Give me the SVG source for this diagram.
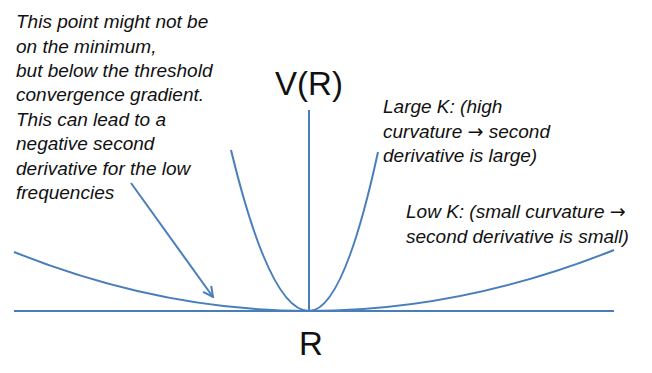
<svg xmlns="http://www.w3.org/2000/svg" width="652" height="373" viewBox="0 0 652 373">
<defs>
<style>
.ln{fill:none;stroke:#4a7ebb;stroke-width:2}
.it{font-family:"Liberation Sans",Arial,sans-serif;font-style:italic;font-size:19px;fill:#111}
.ar{font-family:"DejaVu Sans",sans-serif;font-style:normal;font-size:19px}
.big{font-family:"Liberation Sans",Arial,sans-serif;font-size:33px;fill:#111;text-anchor:middle}
</style>
<marker id="ah" viewBox="0 0 12 12" refX="11" refY="6" markerWidth="12" markerHeight="12" markerUnits="userSpaceOnUse" orient="auto">
<path d="M1,1 L11,6 L1,11" fill="none" stroke="#4a7ebb" stroke-width="2"/>
</marker>
</defs>
<rect width="652" height="373" fill="#fff"/>
<g id="connectors">
<line class="ln" x1="14" y1="311" x2="614" y2="311"/>
<line class="ln" x1="309" y1="110" x2="309" y2="311"/>
<path class="ln" d="M231,150 Q270,311 309,311 Q343.5,311 378,152"/>
<path class="ln" d="M14,252 Q161.5,311 309,311 Q461.5,311 614,250"/>
<line class="ln" x1="131" y1="183" x2="213" y2="297" marker-end="url(#ah)"/>
</g>
<g id="axis-labels">
<text class="big" x="309" y="95">V(R)</text>
<text class="big" x="311" y="355">R</text>
</g>
<g id="note-min">
<text class="it" x="16" y="28">This point might not be</text>
<text class="it" x="16" y="53">on the minimum,</text>
<text class="it" x="16" y="77">but below the threshold</text>
<text class="it" x="16" y="101">convergence gradient.</text>
<text class="it" x="16" y="126">This can lead to a</text>
<text class="it" x="16" y="150">negative second</text>
<text class="it" x="16" y="175">derivative for the low</text>
<text class="it" x="16" y="199">frequencies</text>
</g>
<g id="note-large">
<text class="it" x="383" y="113">Large K: (high</text>
<text class="it" x="383" y="138">curvature <tspan class="ar">→</tspan> second</text>
<text class="it" x="383" y="162">derivative is large)</text>
</g>
<g id="note-low">
<text class="it" x="406" y="218">Low K: (small curvature <tspan class="ar">→</tspan></text>
<text class="it" x="406" y="243">second derivative is small)</text>
</g>
</svg>
